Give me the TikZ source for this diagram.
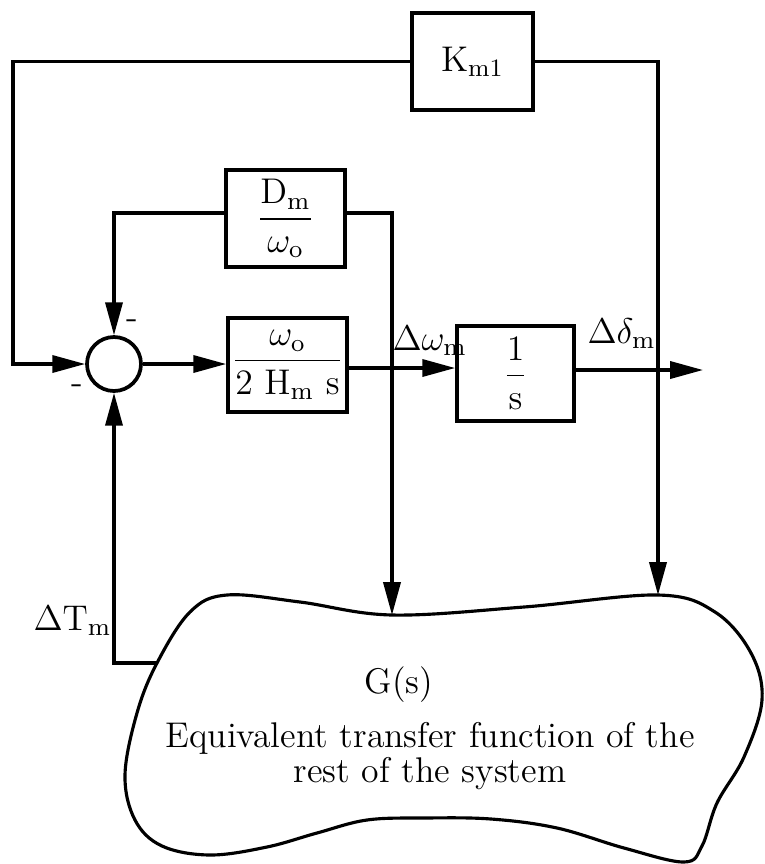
\documentclass[tikz,border=0pt]{standalone}
\usepackage{fix-cm}
\usetikzlibrary{arrows.meta}
\def\u{0.35pt}
\tikzset{
  blk/.style={draw, line width=1.3pt, inner sep=0pt, fill=white},
  arr/.style={line width=1.1pt, -{Triangle[length=11.5pt,width=6pt]}},
  ln/.style={line width=1.1pt},
  lbl/.style={inner sep=0pt}
}
\begin{document}
\begin{tikzpicture}[x=0.35pt,y=-0.35pt,font=\fontsize{12.5}{15}\selectfont]
\useasboundingbox (0,0) rectangle (764,864);

% blocks
\node[blk, minimum width=121*\u, minimum height=97*\u] (K) at (472.5,61.5) {K\textsubscript{m1}};
\node[blk, minimum width=119*\u, minimum height=97*\u] (D) at (285.5,218.5)
  {$\displaystyle\frac{\mathrm{D_m}}{\omega_{\mathrm{o}}}$};
\node[blk, minimum width=119*\u, minimum height=94*\u] (W) at (287.5,365)
  {$\displaystyle\frac{\omega_{\mathrm{o}}}{\mathrm{2\ H_m\ s}}$};
\node[blk, minimum width=117*\u, minimum height=95*\u] (S) at (515.5,373.5)
  {$\displaystyle\frac{1}{\mathrm{s}}$};
\node[draw, circle, line width=1.3pt, minimum size=54*\u, inner sep=0pt] (sum) at (114,364) {};

% blob G(s)
\draw[line width=1.1pt] plot[smooth cycle, tension=0.6] coordinates {
  (157,663) (190,612) (227,595) (300,602) (392,615) (524,607) (658,595)
  (715,612) (751,653) (762,700) (744,757) (717,803) (702,846) (684,862)
  (624,848) (557,828) (491,819) (424,818) (367,820) (317,833) (267,847)
  (210,855) (162,846) (135,820) (125,775) (137,713)};
\coordinate (g0) at (157,663);
\coordinate (g1) at (392,615);
\coordinate (g2) at (658,595);

\node[anchor=base] (gs) at (399,693) {G(s)};
\node[anchor=base] (eq1) at (430,747) {Equivalent transfer function of the};
\node[anchor=base] (eq2) at (430,782) {rest of the system};

% helper coordinates
\coordinate (kl) at (13,364);
\coordinate (dl) at (114,213);
\coordinate (dr) at (392,213);
\coordinate (j1) at (392,368);
\coordinate (out) at (703,370);

% connectors
\draw[arr] (K.west) -| (kl) -- (sum.west);
\draw[arr] (K.east) -| (g2);
\draw[arr] (D.west |- dl) -- (dl) -- (sum.north);
\draw[arr] (D.east |- dr) -- (dr) -- (g1);
\draw[arr] (sum.east) -- (W.west |- sum.east);
\draw[ln] (W.east |- j1) -- (j1);
\draw[arr] (j1) -- (S.west |- j1);
\draw[arr] (S.east |- out) -- (out);
\draw[arr] (g0) -| (sum.south);

% labels
\node[lbl, anchor=base west] (lw) at (392,350) {$\Delta\omega_{\mathrm{m}}$};
\node[lbl, anchor=base west] (ld) at (587,343) {$\Delta\delta_{\mathrm{m}}$};
\node[lbl, anchor=base west] (lt) at (33,630) {$\Delta\mathrm{T_m}$};
\node[lbl, anchor=base] (mtop) at (132,328) {-};
\node[lbl, anchor=base] (mleft) at (77,393) {-};
\end{tikzpicture}
\end{document}
